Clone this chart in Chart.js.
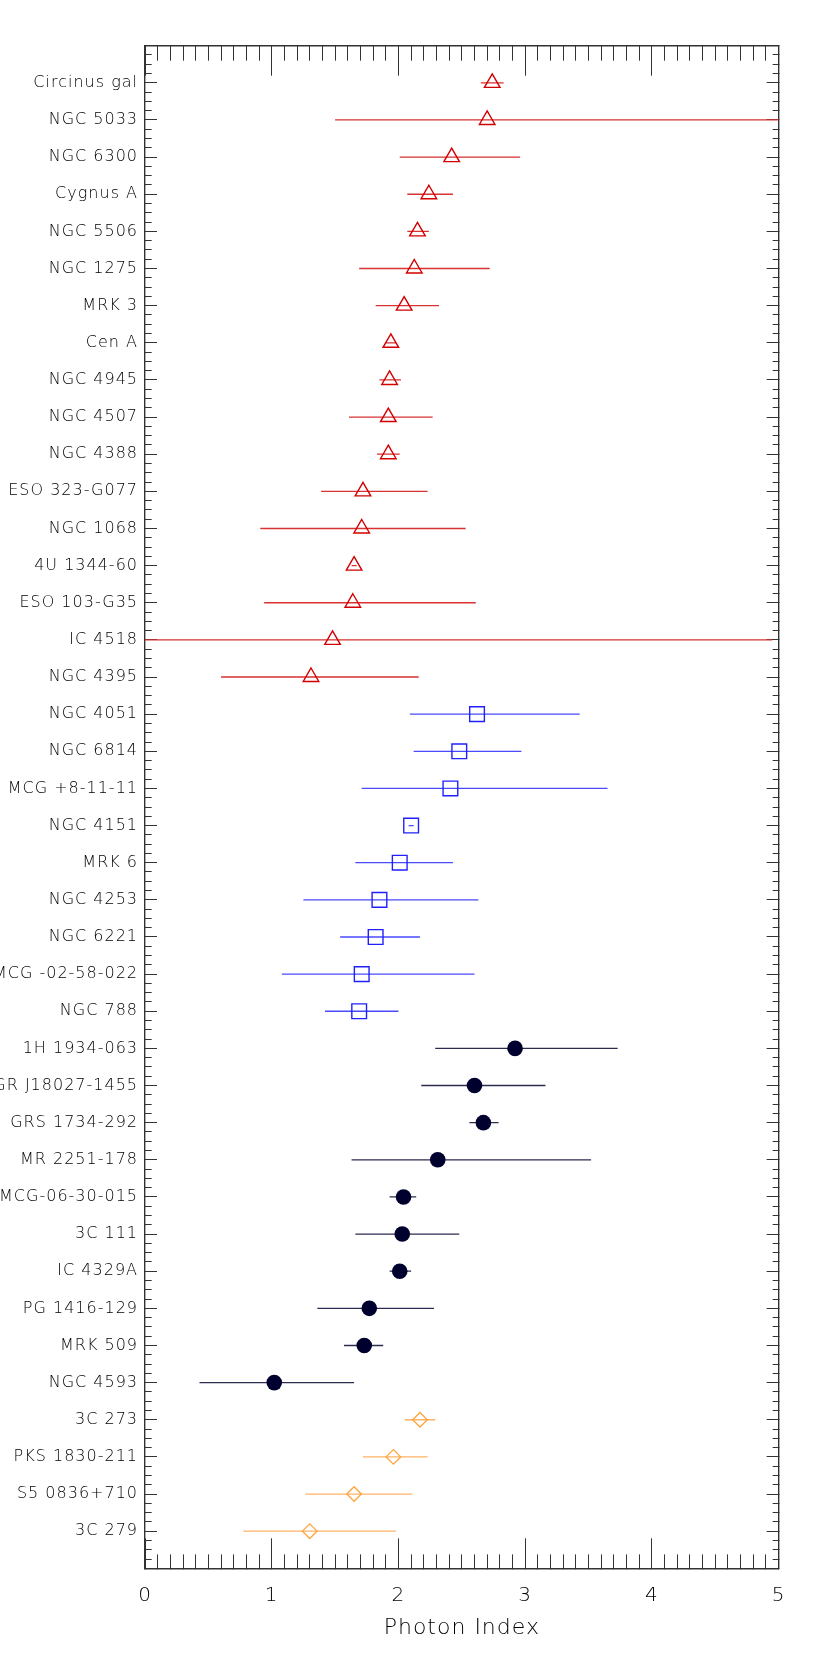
<!DOCTYPE html>
<html>
<head>
<meta charset="utf-8">
<script src="https://cdn.jsdelivr.net/npm/chart.js@4.4.1/dist/chart.umd.min.js"></script>
<style>
html,body{margin:0;padding:0;background:#ffffff;}
canvas{display:block;}
</style>
</head>
<body>
<canvas id="c" width="830" height="1661"></canvas>
<script>
// ---------------- DATA ----------------
// Group 1 (red open triangles)
const group1Names = ['Circinus gal','NGC 5033','NGC 6300','Cygnus A','NGC 5506','NGC 1275','MRK 3','Cen A','NGC 4945','NGC 4507','NGC 4388','ESO 323-G077','NGC 1068','4U 1344-60','ESO 103-G35','IC 4518','NGC 4395'];
const group1Gamma = [2.74, 2.70, 2.42, 2.24, 2.15, 2.125, 2.045, 1.94, 1.93, 1.92, 1.92, 1.72, 1.71, 1.65, 1.64, 1.48, 1.31];
const group1Low   = [2.65, 1.50, 2.01, 2.07, 2.07, 1.69, 1.82, 1.90, 1.85, 1.61, 1.83, 1.39, 0.91, 1.63, 0.94, -0.30, 0.60];
const group1High  = [2.83, 5.30, 2.96, 2.43, 2.24, 2.72, 2.32, 1.98, 2.02, 2.27, 2.01, 2.23, 2.53, 1.67, 2.61, 4.95, 2.16];

// Group 2 (blue open squares)
const group2Names = ['NGC 4051','NGC 6814','MCG +8-11-11','NGC 4151','MRK 6','NGC 4253','NGC 6221','MCG -02-58-022','NGC 788'];
const group2Gamma = [2.62, 2.48, 2.41, 2.10, 2.01, 1.85, 1.82, 1.71, 1.69];
const group2Low   = [2.09, 2.12, 1.71, 2.08, 1.66, 1.25, 1.54, 1.08, 1.42];
const group2High  = [3.43, 2.97, 3.65, 2.12, 2.43, 2.63, 2.17, 2.60, 2.00];

// Group 3 (dark filled circles)
const group3Names = ['1H 1934-063','IGR J18027-1455','GRS 1734-292','MR 2251-178','MCG-06-30-015','3C 111','IC 4329A','PG 1416-129','MRK 509','NGC 4593'];
const group3Gamma = [2.92, 2.60, 2.67, 2.31, 2.04, 2.03, 2.01, 1.77, 1.73, 1.02];
const group3Low   = [2.29, 2.18, 2.56, 1.63, 1.93, 1.66, 1.93, 1.36, 1.57, 0.43];
const group3High  = [3.73, 3.16, 2.79, 3.52, 2.14, 2.48, 2.10, 2.28, 1.88, 1.65];

// Group 4 (orange open diamonds)
const group4Names = ['3C 273','PKS 1830-211','S5 0836+710','3C 279'];
const group4Gamma = [2.17, 1.96, 1.65, 1.30];
const group4Low   = [2.05, 1.72, 1.265, 0.775];
const group4High  = [2.29, 2.23, 2.11, 1.98];

// Axis ranges / tick steps
const xRange = [0, 5];
const xMajorStep = 1, xMinorStep = 0.1;
const yMinorStep = 0.25;
const xTitle = 'Photon Index';

// ---------------- BUILD ----------------
const allNames = [...group1Names, ...group2Names, ...group3Names, ...group4Names];
const yRange = [0, allNames.length + 1];
const off2 = group1Names.length;
const off3 = off2 + group2Names.length;
const off4 = off3 + group3Names.length;

function points(gamma, offset) {
  return gamma.map((g, i) => ({x: g, y: offset + i + 1}));
}
function errorSegments(lo, hi, offset) {
  const d = [];
  lo.forEach((l, i) => {
    d.push({x: l, y: offset + i + 1});
    d.push({x: hi[i], y: offset + i + 1});
    d.push({x: NaN, y: NaN});
  });
  return d;
}

const isInt = v => Math.abs(v - Math.round(v)) < 1e-6;
const FONT = "'DejaVu Sans', 'Liberation Sans', sans-serif";
const TEXT = '#000000';
const FRAME = {display: true, color: '#333333', width: 1.4};
const TICKC = '#333333';

function errDS(data, color) {
  return {type: 'line', data, borderColor: color, borderWidth: 1.3, pointRadius: 0,
          spanGaps: false, tension: 0, fill: false, order: 2};
}
function markDS(data, style, radius, stroke, fill, bw) {
  return {type: 'scatter', data, pointStyle: style, pointRadius: radius, pointHoverRadius: radius,
          borderColor: stroke, backgroundColor: fill, pointBorderWidth: bw, borderWidth: bw,
          showLine: false, order: 0};
}

const spacingPlugin = {
  id: 'letterSpacing',
  beforeDraw(chart) { chart.ctx.letterSpacing = '1px'; }
};

new Chart(document.getElementById('c'), {
  type: 'scatter',
  data: {
    datasets: [
      errDS(errorSegments(group1Low, group1High, 0), '#d83232'),
      errDS(errorSegments(group2Low, group2High, off2), '#4a4aff'),
      errDS(errorSegments(group3Low, group3High, off3), '#2c2c52'),
      errDS(errorSegments(group4Low, group4High, off4), '#ffb364'),
      markDS(points(group1Gamma, 0), 'triangle', 9, '#d20000', 'rgba(0,0,0,0)', 1.4),
      markDS(points(group2Gamma, off2), 'rect', 10.4, '#2020ff', 'rgba(0,0,0,0)', 1.4),
      markDS(points(group3Gamma, off3), 'circle', 7.8, '#00002e', '#00002e', 0),
      markDS(points(group4Gamma, off4), 'rectRot', 7.3, '#ffa43c', 'rgba(0,0,0,0)', 1.3)
    ]
  },
  options: {
    responsive: false,
    animation: false,
    events: [],
    layout: {padding: 0},
    plugins: {legend: {display: false}, tooltip: {enabled: false}, title: {display: false}},
    scales: {
      x: {
        type: 'linear', position: 'bottom', min: xRange[0], max: xRange[1],
        ticks: {stepSize: xMinorStep, autoSkip: false, maxRotation: 0, minRotation: 0, padding: 45,
                color: TEXT, font: {family: FONT, size: 20, weight: 200},
                callback: v => (isInt(v / xMajorStep) ? String(Math.round(v)) : '')},
        grid: {drawOnChartArea: false, drawTicks: true, tickLength: -30, tickColor: TICKC, tickWidth: 1,
               tickBorderDash: c => (isInt(c.tick.value / xMajorStep) ? [] : [15, 1000])},
        border: FRAME,
        title: {display: true, text: xTitle, color: TEXT, font: {family: FONT, size: 22, weight: 200},
                padding: {top: 0, bottom: 20}},
        afterFit: s => { s.height = 92.7; }
      },
      x2: {
        type: 'linear', position: 'top', min: xRange[0], max: xRange[1], display: true,
        ticks: {stepSize: xMinorStep, autoSkip: false, maxRotation: 0, callback: () => ''},
        grid: {drawOnChartArea: false, drawTicks: true, tickLength: -30, tickColor: TICKC, tickWidth: 1,
               tickBorderDash: c => (isInt(c.tick.value / xMajorStep) ? [] : [0, 15, 15, 1000])},
        border: FRAME,
        afterFit: s => { s.height = 45.7; }
      },
      y: {
        type: 'linear', position: 'left', min: yRange[0], max: yRange[1], reverse: true,
        ticks: {stepSize: yMinorStep, autoSkip: false, padding: 19, color: TEXT,
                font: {family: FONT, size: 16, weight: 200},
                callback: v => (isInt(v) && v >= 1 && v <= allNames.length ? allNames[Math.round(v) - 1] : '')},
        grid: {drawOnChartArea: false, drawTicks: true, tickLength: -12, tickColor: TICKC, tickWidth: 1,
               tickBorderDash: c => (isInt(c.tick.value) ? [] : [0, 5.3, 6.7, 1000])},
        border: FRAME,
        afterFit: s => { s.width = 145; }
      },
      y2: {
        type: 'linear', position: 'right', min: yRange[0], max: yRange[1], reverse: true, display: true,
        ticks: {stepSize: yMinorStep, autoSkip: false, callback: () => ''},
        grid: {drawOnChartArea: false, drawTicks: true, tickLength: -12, tickColor: TICKC, tickWidth: 1,
               tickBorderDash: c => (isInt(c.tick.value) ? [] : [6.7, 1000])},
        border: FRAME,
        afterFit: s => { s.width = 43.3; }
      }
    }
  },
  plugins: [spacingPlugin]
});
</script>
</body>
</html>
